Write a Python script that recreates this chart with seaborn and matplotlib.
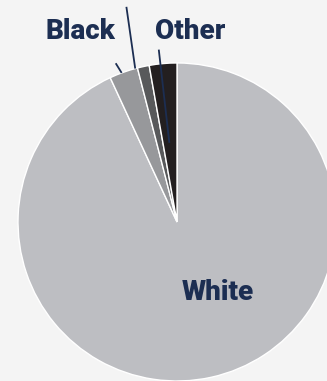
# Libraries
# ===================================================
import numpy as np
import seaborn as sns
import matplotlib.pyplot as plt

# Data
# ===================================================
groups = ['White', 'Black', 'Asian', 'Other']
shares = [93.1, 2.9, 1.2, 2.8]
colors = ['#bdbec2', '#97989b', '#58595b', '#231f20']

# Style
# ===================================================
sns.set_theme(style='white')
plt.rcParams['font.family'] = ['Roboto', 'DejaVu Sans']
navy = '#1c2e52'

fig = plt.figure(figsize=(3.27, 3.81), dpi=100, facecolor='#f4f4f4')
ax = fig.add_axes([0, 0, 1, 1])
ax.set_facecolor('#f4f4f4')

# Pie
# ===================================================
wedges, _ = ax.pie(
    shares,
    colors=colors,
    startangle=90,
    counterclock=False,
    radius=1,
    wedgeprops={'edgecolor': 'white', 'linewidth': 1.0},
)

ax.set_xlim(-1.113, 0.943)
ax.set_ylim(-1.0, 1.396)
ax.set_aspect('equal')
ax.axis('off')

def mid_angle(w):
    return np.deg2rad((w.theta1 + w.theta2) / 2)

def polar(a, r):
    return r * np.cos(a), r * np.sin(a)

# Labels
# ===================================================
label_pos = {'White': (0.255, -0.443), 'Black': (-0.61, 1.20), 'Other': (0.082, 1.20)}
for g, w in zip(groups, wedges):
    if g in label_pos:
        ax.text(*label_pos[g], g, ha='center', va='center', fontsize=20,
                fontweight='heavy', color=navy)

# Leader lines (radius start/end, angle offset start/end in degrees)
# ===================================================
lines = {'Black': (1.0, 1.07, 0.75, 1.5), 'Asian': (1.0, 1.39, 3.0, 1.0), 'Other': (0.5, 1.09, 0.5, 1.0)}
for g, w in zip(groups, wedges):
    if g in lines:
        r0, r1, o0, o1 = lines[g]
        a = mid_angle(w)
        x0, y0 = polar(a + np.deg2rad(o0), r0)
        x1, y1 = polar(a + np.deg2rad(o1), r1)
        ax.plot([x0, x1], [y0, y1], color=navy, linewidth=1.3, solid_capstyle='butt')

plt.savefig('out.png', dpi=100, facecolor=fig.get_facecolor())
